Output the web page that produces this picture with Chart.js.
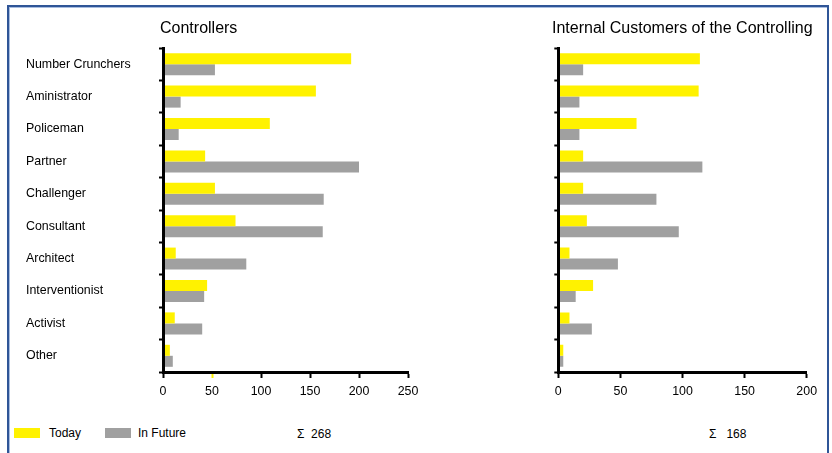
<!DOCTYPE html>
<html>
<head>
<meta charset="utf-8">
<script src="https://cdn.jsdelivr.net/npm/chart.js@4/dist/chart.umd.min.js"></script>
<style>
  html, body { margin: 0; padding: 0; background: #fff; }
  body { width: 832px; height: 453px; position: relative; overflow: hidden; font-family: "Liberation Sans", Arial, sans-serif; color: #000; }
  .frame { position: absolute; left: 7px; top: 5px; width: 818px; height: 470px; border: 2px solid #2f5597; box-shadow: inset 1px 1px 0 #a8bde0; }
  .title { position: absolute; font-size: 16px; line-height: 16px; white-space: nowrap; }
  .txt { position: absolute; font-size: 12px; line-height: 12px; white-space: pre; }
  .box { position: absolute; width: 26px; height: 10px; }
  canvas { position: absolute; top: 0; }
</style>
</head>
<body>
<div class="frame"></div>
<canvas id="left" width="430" height="400" style="left:0px"></canvas>
<canvas id="right" width="402" height="400" style="left:430px"></canvas>
<div class="title" style="left:160px; top:20px;">Controllers</div>
<div class="title" style="left:552px; top:20px;">Internal Customers of the Controlling</div>
<div class="box" style="left:14px; top:428px; background:#fff200;"></div>
<div class="txt" style="left:49px; top:427px;">Today</div>
<div class="box" style="left:105px; top:428px; background:#a0a0a0;"></div>
<div class="txt" style="left:138px; top:427px;">In Future</div>
<div class="txt" style="left:297px; top:428px;">Σ  268</div>
<div class="txt" style="left:709px; top:428px;">Σ   168</div>
<script>
const categories = ['Number Crunchers', 'Aministrator', 'Policeman', 'Partner', 'Challenger', 'Consultant', 'Architect', 'Interventionist', 'Activist', 'Other'];
const seriesNames = ['Today', 'In Future'];
const controllersToday = [192, 156, 109, 43, 53, 74, 13, 45, 12, 7];
const controllersFuture = [53, 18, 16, 200, 164, 163, 85, 42, 40, 10];
const customersToday = [114, 113, 63, 20, 20, 23, 9, 28, 9, 4];
const customersFuture = [20, 17, 17, 116, 79, 97, 48, 14, 27, 4];
const leftTickMax = 250;
const rightTickMax = 200;
const tickStep = 50;

const YELLOW = '#fff200';
const GRAY = '#a0a0a0';
const YFONT = { family: '"Liberation Sans", Arial, sans-serif', size: 12.4 };
const XFONT = { family: '"Liberation Sans", Arial, sans-serif', size: 12.4 };

function makeChart(id, today, future, max, showLabels, yWidth, padLeft, padRight, yellowTickValue) {
  return new Chart(document.getElementById(id), {
    type: 'bar',
    data: {
      labels: categories,
      datasets: [
        { label: seriesNames[0], data: today, backgroundColor: YELLOW, borderWidth: 0 },
        { label: seriesNames[1], data: future, backgroundColor: GRAY, borderWidth: 0 }
      ]
    },
    options: {
      indexAxis: 'y',
      responsive: false,
      animation: false,
      devicePixelRatio: 1,
      barPercentage: 1,
      categoryPercentage: 0.68,
      layout: { padding: { left: padLeft, right: padRight, top: 48, bottom: 0 } },
      plugins: { legend: { display: false }, tooltip: { enabled: false }, title: { display: false } },
      scales: {
        y: {
          type: 'category',
          offset: true,
          grid: { display: true, offset: true, drawOnChartArea: false, drawTicks: true, tickLength: 4, tickWidth: 2, tickColor: '#000' },
          border: { display: true, color: '#000', width: 3, z: 1 },
          ticks: { display: showLabels, crossAlign: 'far', font: YFONT, color: '#000', padding: 0 },
          afterFit: s => { s.width = yWidth; }
        },
        x: {
          type: 'linear',
          min: 0,
          max: max,
          ticks: { stepSize: tickStep, font: XFONT, color: '#000', padding: 6, maxRotation: 0 },
          grid: {
            display: true, drawOnChartArea: false, drawTicks: true, tickLength: 6, tickWidth: 2,
            tickColor: ctx => (ctx.tick && ctx.tick.value === yellowTickValue) ? YELLOW : '#000'
          },
          border: { display: true, color: '#000', width: 3, z: 1 },
          afterFit: s => { s.height = 28; }
        }
      }
    }
  });
}

makeChart('left', controllersToday, controllersFuture, leftTickMax, true, 137, 26, 22, 50);
makeChart('right', customersToday, customersFuture, rightTickMax, false, 128.3, 0, 25.3, null);
</script>
</body>
</html>
